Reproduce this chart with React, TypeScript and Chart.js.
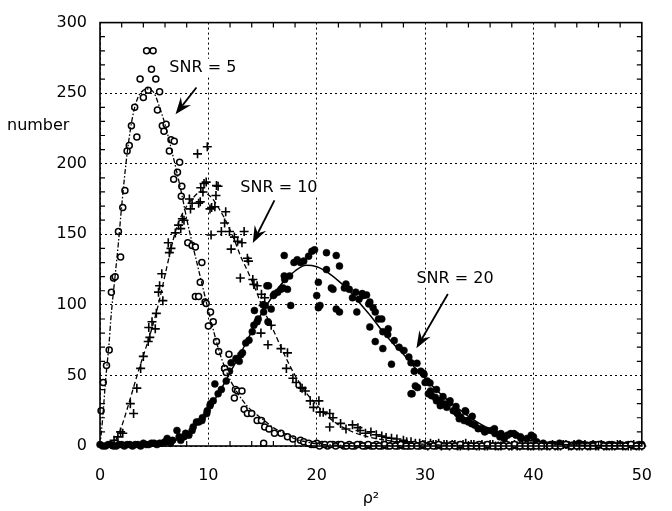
import React, { useEffect, useRef } from 'react';
import { Chart, registerables } from 'chart.js';

Chart.register(...registerables);

// ---- axis ticks ----
const xTickValues = [0, 10, 20, 30, 40, 50];
const yTickValues = [0, 50, 100, 150, 200, 250, 300];
const xMinorTicks = [2, 4, 6, 8, 12, 14, 16, 18, 22, 24, 26, 28, 32, 34, 36, 38, 42, 44, 46, 48];
const yMinorTicks = [10, 20, 30, 40, 60, 70, 80, 90, 110, 120, 130, 140, 160, 170, 180, 190, 210, 220, 230, 240, 260, 270, 280, 290];

// ---- SNR = 5 : open circles (rho^2, number) ----
const snr5Circles: [number, number][] = [
  [0.1, 25], [0.3, 45], [0.6, 57], [0.85, 68], [1.05, 109], [1.25, 119], [1.4, 120], [1.7, 152], [1.9, 134],
  [2.1, 169], [2.3, 181], [2.5, 209], [2.7, 213], [2.9, 227], [3.2, 240], [3.4, 219], [3.7, 260], [4.0, 247],
  [4.3, 280], [4.45, 252], [4.75, 267], [4.9, 280], [5.15, 260], [5.3, 238], [5.5, 251], [5.75, 227], [5.9, 223],
  [6.1, 228], [6.4, 209], [6.55, 217], [6.8, 189], [6.85, 216], [7.15, 194], [7.35, 201], [7.5, 177], [7.55, 184],
  [8.1, 144], [8.5, 142], [8.8, 141], [8.8, 106], [9.1, 106], [9.25, 116], [9.4, 130], [9.7, 102], [9.8, 101],
  [10.0, 85], [10.2, 95], [10.45, 88], [10.75, 74], [10.95, 67], [11.5, 55], [11.65, 52], [11.9, 65], [12.4, 34],
  [12.5, 40], [12.7, 39], [13.1, 39], [13.3, 26], [13.6, 23], [14.0, 23], [14.5, 18], [14.9, 18], [15.1, 2],
  [15.2, 13.5], [15.6, 12], [16.1, 9], [16.7, 9], [17.3, 6.5], [17.8, 5], [18.5, 4], [18.8, 3],
  [19.5, 1], [20, 2], [20.5, 1], [21, 0], [21.5, 1], [22, 1], [22.5, 0], [23, 1], [23.5, 0], [24, 1], [24.5, 0],
  [25, 0], [25.5, 1], [26, 0], [26.5, 0], [27, 1], [27.5, 0], [28, 0], [28.5, 0], [29, 1], [29.5, 0], [30, 0],
  [30.5, 1], [31, 0], [31.5, 0], [32, 0], [32.5, 1], [33, 0], [33.5, 0], [34, 0], [34.5, 0], [35, 1], [35.5, 0],
  [36, 0], [36.5, 0], [37, 0], [37.5, 1], [38, 0], [38.5, 0], [39, 0], [39.5, 0], [40, 0], [40.5, 1], [41, 0],
  [41.5, 0], [42, 0], [42.5, 0], [43, 1], [43.5, 0], [44, 0], [44.5, 0], [45, 0], [45.5, 0], [46, 1], [46.5, 0],
  [47, 0], [47.5, 0], [48, 0], [48.5, 0], [49, 1], [49.5, 0], [50, 0],
];
const snr5TailCircles: [number, number][] = [
  [19.25, 2], [19.75, 1], [20.25, 0], [20.75, 1], [21.25, 1], [21.75, 0], [22.25, 1], [22.75, 0], [23.25, 0],
  [23.75, 1], [24.25, 0], [24.75, 1], [25.25, 0], [25.75, 0], [26.25, 1], [26.75, 0], [27.25, 0], [27.75, 1],
  [28.25, 0], [28.75, 0], [29.25, 0], [29.75, 1], [30.25, 0], [30.75, 0], [31.25, 1], [31.75, 0], [32.25, 0],
  [32.75, 0], [33.25, 1], [33.75, 0], [34.25, 0], [34.75, 0], [35.25, 0], [35.75, 1], [36.25, 0], [36.75, 0],
  [37.25, 0], [37.75, 0], [38.25, 1], [38.75, 0], [39.25, 0], [39.75, 0], [40.25, 0], [40.75, 0],
];

// ---- SNR = 10 : crosses ----
const snr10Crosses: [number, number][] = [
  [1.0, 1], [1.3, 4], [1.65, 6.5], [1.9, 10], [2.1, 9], [2.8, 30], [3.1, 23], [3.4, 41], [3.75, 55], [4.0, 63.5],
  [4.45, 74], [4.5, 84], [4.6, 77], [4.8, 88], [5.1, 83], [5.2, 94], [5.4, 109], [5.5, 113.5], [5.7, 122], [5.8, 103],
  [6.3, 144], [6.4, 137], [6.55, 140], [6.95, 151], [7.25, 156.5], [7.45, 154], [7.6, 161], [7.75, 160], [8.25, 175],
  [8.35, 168], [8.5, 172], [9.0, 207], [9.1, 172], [9.25, 173], [9.3, 183], [9.5, 180], [9.6, 186], [9.8, 187],
  [9.9, 212], [10.15, 168], [10.25, 149.5], [10.3, 169], [10.6, 169.5], [10.7, 177.5], [10.75, 184.5], [10.9, 184],
  [11.2, 152], [11.5, 158], [11.6, 166], [11.95, 152], [12.1, 139.5], [12.4, 148], [12.7, 145], [12.95, 119],
  [13.1, 144], [13.3, 152], [13.6, 133], [13.7, 131], [14.1, 118], [14.2, 114.5], [14.5, 113.5], [14.85, 80],
  [14.9, 107.5], [15.05, 99.5], [15.2, 105], [15.5, 71.7], [15.8, 85.6], [16.7, 69], [17.2, 55], [17.3, 66],
  [17.8, 48], [18.1, 45], [18.5, 41.4], [18.65, 41], [18.95, 39], [19.4, 32], [19.7, 27.4], [20.2, 32], [20.3, 24],
  [20.6, 24], [21.2, 23], [21.2, 13.5], [21.5, 20], [22.2, 16], [23.3, 15], [24.0, 11], [25.0, 10], [26.0, 7],
  [26.9, 5.5], [28.0, 4], [28.7, 3], [29.5, 2],
  [30, 1], [30.5, 2], [31, 1], [31.5, 0], [32, 1], [32.5, 1], [33, 0], [33.5, 1], [34, 0], [34.5, 1], [35, 0],
  [35.5, 0], [36, 1], [36.5, 0], [37, 0], [37.5, 1], [38, 0], [38.5, 0], [39, 1], [39.5, 0], [40, 0], [40.5, 0],
  [41, 1], [41.5, 0], [42, 0], [42.5, 0], [43, 1], [43.5, 0], [44, 0], [44.5, 0], [45, 0], [45.5, 1], [46, 0],
  [46.5, 0], [47, 0], [47.5, 0], [48, 1], [48.5, 0], [49, 0], [49.5, 0], [50, 0],
];
const snr10TailCrosses: [number, number][] = [
  [22.7, 12], [23.8, 13], [24.5, 9], [25.5, 8], [26.4, 6], [27.4, 5], [28.3, 3], [29.1, 2], [29.8, 1],
  [30.25, 0], [30.75, 1], [31.25, 2], [31.75, 1], [32.25, 0], [32.75, 1], [33.25, 0], [33.75, 2], [34.25, 1],
  [34.75, 0], [35.25, 1], [35.75, 0], [36.25, 1], [36.75, 0], [37.25, 2], [37.75, 0], [38.25, 1], [38.75, 0],
  [39.25, 1], [39.75, 0], [40.25, 1], [40.75, 0], [41.25, 0], [41.75, 1], [42.25, 0], [42.75, 1], [43.25, 0],
  [43.75, 1], [44.25, 0], [44.75, 1], [45.25, 0], [45.75, 0], [46.25, 1], [46.75, 0], [47.25, 0], [47.75, 1],
  [48.25, 0], [48.75, 0], [49.25, 1], [49.75, 0],
];

// ---- SNR = 20 : filled dots ----
const snr20Dots: [number, number][] = [
  [0, 1], [0.5, 0], [1, 1], [1.5, 0], [2, 1], [2.5, 1], [3, 0], [3.5, 1], [4, 2], [4.5, 1], [5, 2], [5.5, 2],
  [6, 3], [6.2, 5.4], [6.7, 4], [7.1, 11], [7.3, 6.5], [7.45, 4], [7.75, 6.5], [7.9, 9], [8.2, 7.7], [8.5, 11],
  [8.6, 13.5], [8.9, 17], [9.1, 17], [9.4, 18], [9.45, 20], [9.85, 23], [9.9, 25], [10.15, 28.6], [10.2, 30],
  [10.45, 32], [10.6, 44], [10.9, 37], [11.2, 40], [11.5, 55], [11.65, 46], [11.95, 53], [12.1, 59], [12.55, 62],
  [12.85, 60], [13.0, 64.7], [13.15, 66], [13.45, 73], [13.75, 75], [14.05, 81], [14.2, 85.6], [14.25, 96],
  [14.5, 88], [14.6, 90], [15.05, 100], [15.1, 95], [15.25, 99.6], [15.4, 113.5], [15.5, 88], [15.55, 113.5],
  [15.8, 97], [16.0, 106.6], [16.1, 107.7], [16.4, 109], [16.7, 111], [16.9, 112], [17.0, 135], [17.0, 120.5],
  [17.05, 118], [17.3, 111], [17.5, 120.5], [17.6, 99.6], [17.9, 130], [18.2, 132], [18.5, 130], [18.8, 131],
  [19.25, 134.5], [19.55, 138], [19.8, 139], [20.0, 106.6], [20.15, 116], [20.15, 98], [20.3, 99.6], [20.9, 137],
  [20.9, 125], [21.35, 112], [21.5, 111], [21.8, 135], [21.8, 97], [22.1, 127.5], [22.1, 95], [22.55, 112],
  [22.7, 114.7], [23.0, 111], [23.3, 105], [23.6, 109], [23.7, 95], [23.9, 104], [24.2, 108], [24.3, 106.6],
  [24.6, 107], [24.8, 100.7], [24.9, 102], [24.9, 84.4], [25.2, 98], [25.4, 95], [25.4, 74], [25.7, 90], [26.0, 90],
  [26.1, 81], [26.1, 69], [26.55, 79], [26.6, 83], [26.9, 58], [27.15, 74.7], [27.6, 70], [28.05, 67.7], [28.5, 63],
  [28.7, 59], [28.7, 37], [28.8, 37], [29.0, 53], [29.1, 42.6], [29.25, 58.6], [29.3, 41.4], [29.6, 53],
  [29.85, 51.6], [29.9, 50.7], [30.0, 45], [30.2, 46], [30.3, 37], [30.45, 44.7], [30.5, 39], [30.6, 35.6],
  [30.95, 34.4], [31.05, 40], [31.05, 32], [31.4, 28.6], [31.4, 32], [31.65, 35], [31.8, 29.8], [32.0, 27.4],
  [32.25, 30.5], [32.3, 32], [32.6, 25], [32.85, 28], [32.9, 24], [33.0, 22.8], [33.15, 19.3], [33.3, 20.4],
  [33.6, 18], [33.7, 25], [33.75, 24.4], [33.9, 18], [34.0, 17], [34.3, 15.8], [34.35, 21], [34.6, 14.7],
  [34.9, 12.3], [35.2, 12.3], [35.5, 10], [35.7, 11], [36.1, 11], [36.4, 12.3], [36.45, 8.8], [36.9, 6.5],
  [37.0, 8.8], [37.3, 5.3], [37.6, 7.7], [37.9, 8.8], [38.2, 8.8], [38.4, 7.7], [38.8, 6.5], [38.85, 5.4],
  [39.4, 5.4], [39.8, 7.7], [40.0, 6.5], [40.3, 3], [40.9, 2], [41.3, 0], [41.8, 1], [42.4, 2], [42.9, 1],
  [43.4, 0], [43.8, 1], [44.2, 2], [44.7, 1], [45.2, 0], [45.6, 1], [46.1, 1], [46.6, 0], [47.0, 1], [47.5, 0],
  [48.0, 1], [48.5, 0], [49.0, 1], [49.5, 0], [50.0, 1],
];
const snr20BaseDots: [number, number][] = [
  [0.25, 0], [0.75, 1], [1.25, 0], [1.75, 1], [2.25, 0], [2.75, 1], [3.25, 1], [3.75, 0], [4.25, 1], [4.75, 2],
  [5.25, 1], [5.75, 2], [6.5, 2], [41.55, 1], [42.15, 0], [42.65, 1], [43.15, 1], [43.6, 0], [44.0, 0],
  [44.45, 1], [44.95, 0], [45.4, 1], [45.85, 0], [46.35, 1], [46.8, 0], [47.25, 1], [47.75, 0], [48.25, 0],
  [48.75, 1], [49.25, 0], [49.75, 1],
];

// ---- fitted curves ----
const snr5Fit: [number, number][] = [
  [0, 0], [0.25, 20], [0.5, 45], [0.85, 74], [1.0, 90], [1.4, 121], [1.7, 144], [2.0, 170], [2.5, 207], [3.0, 233],
  [3.5, 247], [4.0, 252], [4.5, 253], [5.0, 250], [5.5, 240], [6.0, 228], [6.5, 213], [7.0, 197], [7.5, 180],
  [8.0, 161], [8.5, 144], [9.0, 128], [9.5, 112], [10.0, 96], [10.5, 81], [11.0, 67], [11.5, 56], [12.0, 47],
  [12.5, 40], [13.0, 34], [13.5, 29], [14.0, 25], [14.5, 22], [15.0, 19], [16.0, 13], [17.0, 9], [18.0, 5],
  [19.0, 3], [20.0, 1.5], [22.0, 0.5], [25.0, 0], [30.0, 0],
];
const snr10Fit: [number, number][] = [
  [1.0, 0], [1.5, 5], [2.0, 14], [2.5, 26], [3.0, 39], [3.5, 52], [4.0, 64], [4.5, 76], [5.0, 89], [5.5, 104],
  [6.0, 121], [6.5, 138], [7.0, 153], [7.5, 163], [8.0, 170], [8.5, 175], [9.0, 179], [9.5, 180], [10.0, 178],
  [10.5, 174], [11.0, 168], [11.65, 159], [12.0, 153], [12.5, 144], [13.0, 134], [13.5, 126], [13.9, 119],
  [14.5, 108], [15.0, 98], [15.5, 90], [16.0, 82], [17.0, 65], [18.0, 50], [19.0, 38], [20.0, 29], [21.0, 21],
  [22.0, 15], [23.0, 11], [24.0, 8], [25.0, 6], [26.0, 4.5], [28.0, 2.5], [30.0, 1.2], [33.0, 0.4], [36.0, 0],
];
const snr20Fit: [number, number][] = [
  [0, 0], [3, 0], [5, 0.5], [6, 1], [7, 4], [8, 9], [9, 16], [10, 26], [11, 38], [12, 52], [13, 66], [14, 81],
  [15, 95], [16, 107], [17, 117], [18, 124], [19, 128], [20, 127], [21, 123], [22, 117], [23, 110], [24, 101],
  [25, 92], [26, 82], [27, 73], [28, 65], [29, 56], [30, 48], [31, 40], [32, 33], [33, 27], [34, 21], [35, 16],
  [36, 12], [37, 9], [38, 7], [39, 5], [40, 3.5], [42, 1.5], [44, 0.7], [46, 0.3], [48, 0.1], [50, 0],
];

// ---- annotations (data coordinates) ----
const annoText = ['SNR = 5', 'SNR = 10', 'SNR = 20'];
const annoTextX = [6.4, 12.95, 29.2];
const annoTextY = [268, 183, 118.6];
const arrowFromX = [8.9, 16.1, 32.1];
const arrowFromY = [254, 174, 107.7];
const arrowToX = [6.97, 14.1, 29.2];
const arrowToY = [235, 143.8, 69.3];

const yAxisLabel = 'number';
const yAxisLabelAt = 227;
const xAxisLabel = 'ρ²';

const FONT = '"DejaVu Sans", "Liberation Sans", Arial, sans-serif';

const toXY = (arr: [number, number][]) => arr.map(([x, y]) => ({ x, y }));

const decorPlugin = {
  id: 'decor',
  afterDatasetsDraw(chart: any) {
    const { ctx, chartArea: a } = chart;
    const xs = chart.scales.x;
    const ys = chart.scales.y;
    ctx.save();
    ctx.setLineDash([]);
    ctx.strokeStyle = '#000';
    // frame
    ctx.lineWidth = 1.6;
    ctx.strokeRect(a.left, a.top, a.right - a.left, a.bottom - a.top);
    // minor ticks
    ctx.lineWidth = 1.2;
    ctx.beginPath();
    for (const v of yMinorTicks) {
      const py = ys.getPixelForValue(v);
      ctx.moveTo(a.left, py); ctx.lineTo(a.left + 5, py);
      ctx.moveTo(a.right, py); ctx.lineTo(a.right - 5, py);
    }
    for (const v of xMinorTicks) {
      const px = xs.getPixelForValue(v);
      ctx.moveTo(px, a.bottom); ctx.lineTo(px, a.bottom - 5);
      ctx.moveTo(px, a.top); ctx.lineTo(px, a.top + 5);
    }
    ctx.stroke();

    // annotations
    ctx.fillStyle = '#000';
    ctx.font = `16px ${FONT}`;
    ctx.textAlign = 'left';
    ctx.textBaseline = 'middle';
    for (let i = 0; i < annoText.length; i++) {
      const tx = xs.getPixelForValue(annoTextX[i]);
      const ty = ys.getPixelForValue(annoTextY[i]);
      const w = ctx.measureText(annoText[i]).width;
      ctx.fillStyle = '#fff';
      ctx.fillRect(tx - 1, ty - 9, w + 2, 18);
      ctx.fillStyle = '#000';
      ctx.fillText(annoText[i], tx, ty);
      const x0 = xs.getPixelForValue(arrowFromX[i]);
      const y0 = ys.getPixelForValue(arrowFromY[i]);
      const x1 = xs.getPixelForValue(arrowToX[i]);
      const y1 = ys.getPixelForValue(arrowToY[i]);
      const ang = Math.atan2(y1 - y0, x1 - x0);
      const headLen = 17, headW = 6.5, notch = 11;
      ctx.lineWidth = 1.8;
      ctx.beginPath();
      ctx.moveTo(x0, y0);
      ctx.lineTo(x1 - Math.cos(ang) * notch, y1 - Math.sin(ang) * notch);
      ctx.stroke();
      const bx = x1 - Math.cos(ang) * headLen;
      const by = y1 - Math.sin(ang) * headLen;
      const nx = x1 - Math.cos(ang) * notch;
      const ny = y1 - Math.sin(ang) * notch;
      const px = -Math.sin(ang), py = Math.cos(ang);
      ctx.beginPath();
      ctx.moveTo(x1, y1);
      ctx.lineTo(bx + px * headW, by + py * headW);
      ctx.lineTo(nx, ny);
      ctx.lineTo(bx - px * headW, by - py * headW);
      ctx.closePath();
      ctx.fill();
    }

    // y axis label (horizontal, top-left)
    ctx.textAlign = 'left';
    ctx.fillText(yAxisLabel, 7, ys.getPixelForValue(yAxisLabelAt));
    ctx.restore();
  },
};

export default function App() {
  const ref = useRef<HTMLCanvasElement | null>(null);

  useEffect(() => {
    if (!ref.current) return;
    document.body.style.margin = '0';
    const pointCommon = { showLine: false, clip: false as any, borderColor: '#000' };
    const lineCommon = {
      showLine: true,
      pointRadius: 0,
      pointHoverRadius: 0,
      borderColor: '#000',
      borderWidth: 1.3,
      fill: false,
      cubicInterpolationMode: 'monotone' as const,
    };
    const chart = new Chart(ref.current, {
      type: 'scatter',
      data: {
        datasets: [
          { ...lineCommon, label: 'SNR = 5 fit', data: toXY(snr5Fit), borderDash: [5, 2, 1.5, 2] },
          { ...lineCommon, label: 'SNR = 10 fit', data: toXY(snr10Fit), borderDash: [5, 3] },
          { ...lineCommon, label: 'SNR = 20 fit', data: toXY(snr20Fit), borderWidth: 1.5 },
          {
            ...pointCommon, label: 'SNR = 5', data: toXY([...snr5Circles, ...snr5TailCircles]), pointStyle: 'circle',
            pointRadius: 3, pointBorderWidth: 1.5, backgroundColor: '#fff',
          },
          {
            ...pointCommon, label: 'SNR = 10', data: toXY([...snr10Crosses, ...snr10TailCrosses]), pointStyle: 'cross',
            pointRadius: 4.5, pointBorderWidth: 1.6, backgroundColor: '#000',
          },
          {
            ...pointCommon, label: 'SNR = 20', data: toXY([...snr20Dots, ...snr20BaseDots]), pointStyle: 'circle',
            pointRadius: 3.5, pointBorderWidth: 0.5, backgroundColor: '#000',
          },
        ] as any,
      },
      options: {
        responsive: false,
        animation: false,
        events: [],
        layout: { padding: { left: 0, right: 14, top: 16, bottom: 0 } },
        plugins: { legend: { display: false }, tooltip: { enabled: false } },
        scales: {
          x: {
            type: 'linear',
            min: 0,
            max: 50,
            afterBuildTicks: (s: any) => { s.ticks = xTickValues.map((v) => ({ value: v })); },
            afterFit: (s: any) => { s.height = 65; },
            grid: { color: '#000', lineWidth: 1, drawTicks: false },
            border: { display: false, dash: [2, 3] },
            ticks: { color: '#000', padding: 20, maxRotation: 0, font: { family: FONT, size: 16 } },
            title: {
              display: true, text: xAxisLabel, color: '#000',
              font: { family: FONT, size: 16 }, padding: { top: 0, bottom: 3 },
            },
          },
          y: {
            type: 'linear',
            min: 0,
            max: 300,
            afterBuildTicks: (s: any) => { s.ticks = yTickValues.map((v) => ({ value: v })); },
            afterFit: (s: any) => { s.width = 100; },
            grid: { color: '#000', lineWidth: 1, drawTicks: false },
            border: { display: false, dash: [2, 3] },
            ticks: { color: '#000', padding: 13, font: { family: FONT, size: 16 } },
          },
        },
      },
      plugins: [decorPlugin],
    });
    return () => chart.destroy();
  }, []);

  return (
    <div style={{ position: 'absolute', left: 0, top: 0, width: 672, height: 511, background: '#fff' }}>
      <canvas ref={ref} width={672} height={511} style={{ display: 'block', width: 672, height: 511 }} />
    </div>
  );
}
